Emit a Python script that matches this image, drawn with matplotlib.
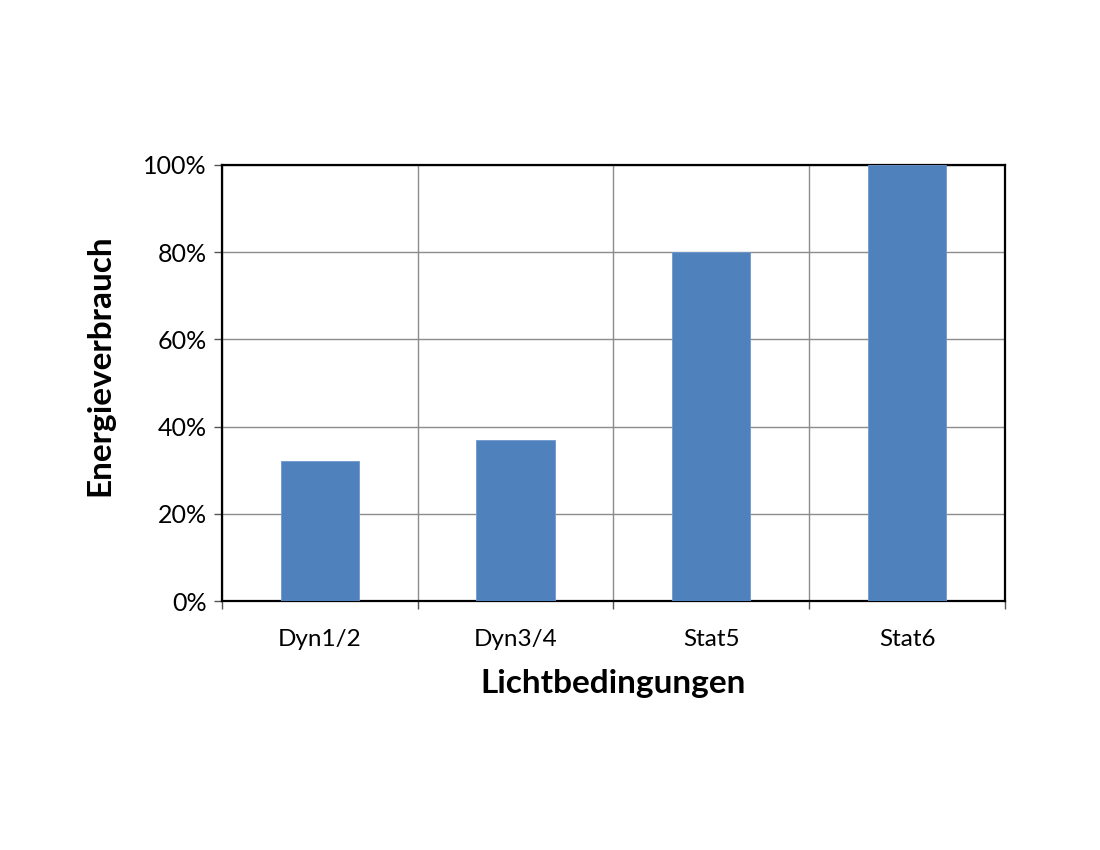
import matplotlib
matplotlib.use("Agg")
from matplotlib import pyplot as plt
from matplotlib.ticker import PercentFormatter, FixedLocator
import numpy as np

# Chart data
categories = ["Dyn1/2", "Dyn3/4", "Stat5", "Stat6"]
energy = [0.32, 0.37, 0.80, 1.00]

plt.rcParams["font.family"] = ["Lato", "DejaVu Sans"]

fig = plt.figure(figsize=(11, 8.5), dpi=100)
ax = fig.add_axes([0.2018, 0.2929, 0.7118, 0.513])

x = np.arange(len(categories))
ax.bar(x, energy, width=0.4, color="#4f81bd", edgecolor="#6f98cc", linewidth=0.6, zorder=3)

ax.set_xlim(-0.5, len(categories) - 0.5)
ax.set_ylim(0, 1.0)
ax.yaxis.set_major_locator(FixedLocator([0, 0.2, 0.4, 0.6, 0.8, 1.0]))
ax.yaxis.set_major_formatter(PercentFormatter(1.0, decimals=0))

# category labels in the middle, tick marks + grid on the boundaries
ax.set_xticks(x)
ax.set_xticklabels(categories)
ax.set_xticks(np.arange(-0.5, len(categories)), minor=True)
ax.tick_params(axis="x", which="major", length=0, pad=20, labelsize=17.5)
ax.tick_params(axis="x", which="minor", length=6, width=1, color="#555555")
ax.tick_params(axis="y", which="major", length=6, width=1, color="#555555", labelsize=18, pad=5)

ax.grid(True, axis="y", which="major", color="#8c8c8c", linewidth=1, zorder=0)
ax.grid(True, axis="x", which="minor", color="#8c8c8c", linewidth=1, zorder=0)

for side in ["left", "bottom", "top", "right"]:
    ax.spines[side].set_linewidth(1.6)
    ax.spines[side].set_color("black")

ax.set_xlabel("Lichtbedingungen", fontsize=24, fontweight="bold", labelpad=14)
ax.set_ylabel("Energieverbrauch", fontsize=24, fontweight="bold")
ax.yaxis.set_label_coords(-0.138, 0.54)

fig.savefig("out.png", dpi=100, facecolor="white")
